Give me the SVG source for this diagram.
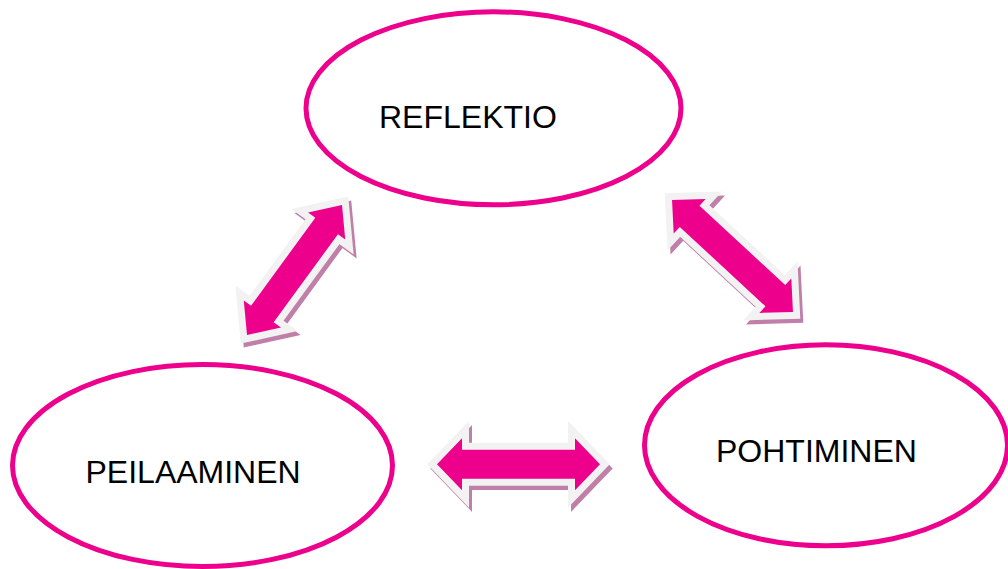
<svg xmlns="http://www.w3.org/2000/svg" xmlns:xlink="http://www.w3.org/1999/xlink" width="1008" height="569" viewBox="0 0 1008 569">
  <style>
    .node { fill: #ffffff; stroke: #EC008C; stroke-width: 5; }
    .label { font-family: "Liberation Sans", Arial, sans-serif; font-size: 32px; fill: #000000; }
    .shadow { fill: #c07fa9; stroke: #c07fa9; stroke-width: 14; stroke-linejoin: miter; stroke-miterlimit: 6; }
    .halo { fill: #f2f2f2; stroke: #f2f2f2; stroke-width: 14; stroke-linejoin: miter; stroke-miterlimit: 6; }
    .body { fill: #EC008C; stroke: none; }
  </style>
  <defs>
    <path id="arrH" d="M -81.5 0 L -56.5 -26 L -56.5 -14.5 L 56.5 -14.5 L 56.5 -26 L 81.5 0 L 56.5 26 L 56.5 14.5 L -56.5 14.5 L -56.5 26 Z"/>
    <path id="arrL" d="M -80.5 0 L -54.5 -23 L -54.5 -14 L 54.5 -14 L 54.5 -23 L 80.5 0 L 54.5 23 L 54.5 14 L -54.5 14 L -54.5 23 Z"/>
    <path id="arrR" d="M -82.4 0 L -58.4 -23.5 L -58.4 -14.5 L 58.4 -14.5 L 58.4 -23.5 L 82.4 0 L 58.4 23.5 L 58.4 14.5 L -58.4 14.5 L -58.4 23.5 Z"/>
  </defs>
  <rect x="0" y="0" width="1008" height="569" fill="#ffffff"/>

  <g id="connectors">
    <g id="arrow-reflektio-peilaaminen">
      <use xlink:href="#arrL" href="#arrL" class="shadow" transform="translate(297.5,274) rotate(-53.85)"/>
      <use xlink:href="#arrL" href="#arrL" class="halo" transform="translate(294.5,270) rotate(-53.85)"/>
      <use xlink:href="#arrL" href="#arrL" class="body" transform="translate(294.5,270) rotate(-53.85)"/>
    </g>
    <g id="arrow-reflektio-pohtiminen">
      <use xlink:href="#arrR" href="#arrR" class="shadow" transform="translate(735.5,260) rotate(42.8)"/>
      <use xlink:href="#arrR" href="#arrR" class="halo" transform="translate(732.5,256) rotate(42.8)"/>
      <use xlink:href="#arrR" href="#arrR" class="body" transform="translate(732.5,256) rotate(42.8)"/>
    </g>
    <g id="arrow-peilaaminen-pohtiminen">
      <use xlink:href="#arrH" href="#arrH" class="shadow" transform="translate(521.5,468.5)"/>
      <use xlink:href="#arrH" href="#arrH" class="halo" transform="translate(518.5,464.25)"/>
      <use xlink:href="#arrH" href="#arrH" class="body" transform="translate(518.5,464.25)"/>
    </g>
  </g>

  <g id="node-reflektio">
    <ellipse class="node" cx="493.5" cy="108.3" rx="187.5" ry="96.5"/>
    <text class="label" x="379" y="128.3">REFLEKTIO</text>
  </g>
  <g id="node-peilaaminen">
    <ellipse class="node" cx="202.5" cy="465.5" rx="190" ry="101"/>
    <text class="label" x="85.5" y="483.3">PEILAAMINEN</text>
  </g>
  <g id="node-pohtiminen">
    <ellipse class="node" cx="826" cy="445.3" rx="181.5" ry="100.5"/>
    <text class="label" x="716" y="461.7">POHTIMINEN</text>
  </g>
</svg>
